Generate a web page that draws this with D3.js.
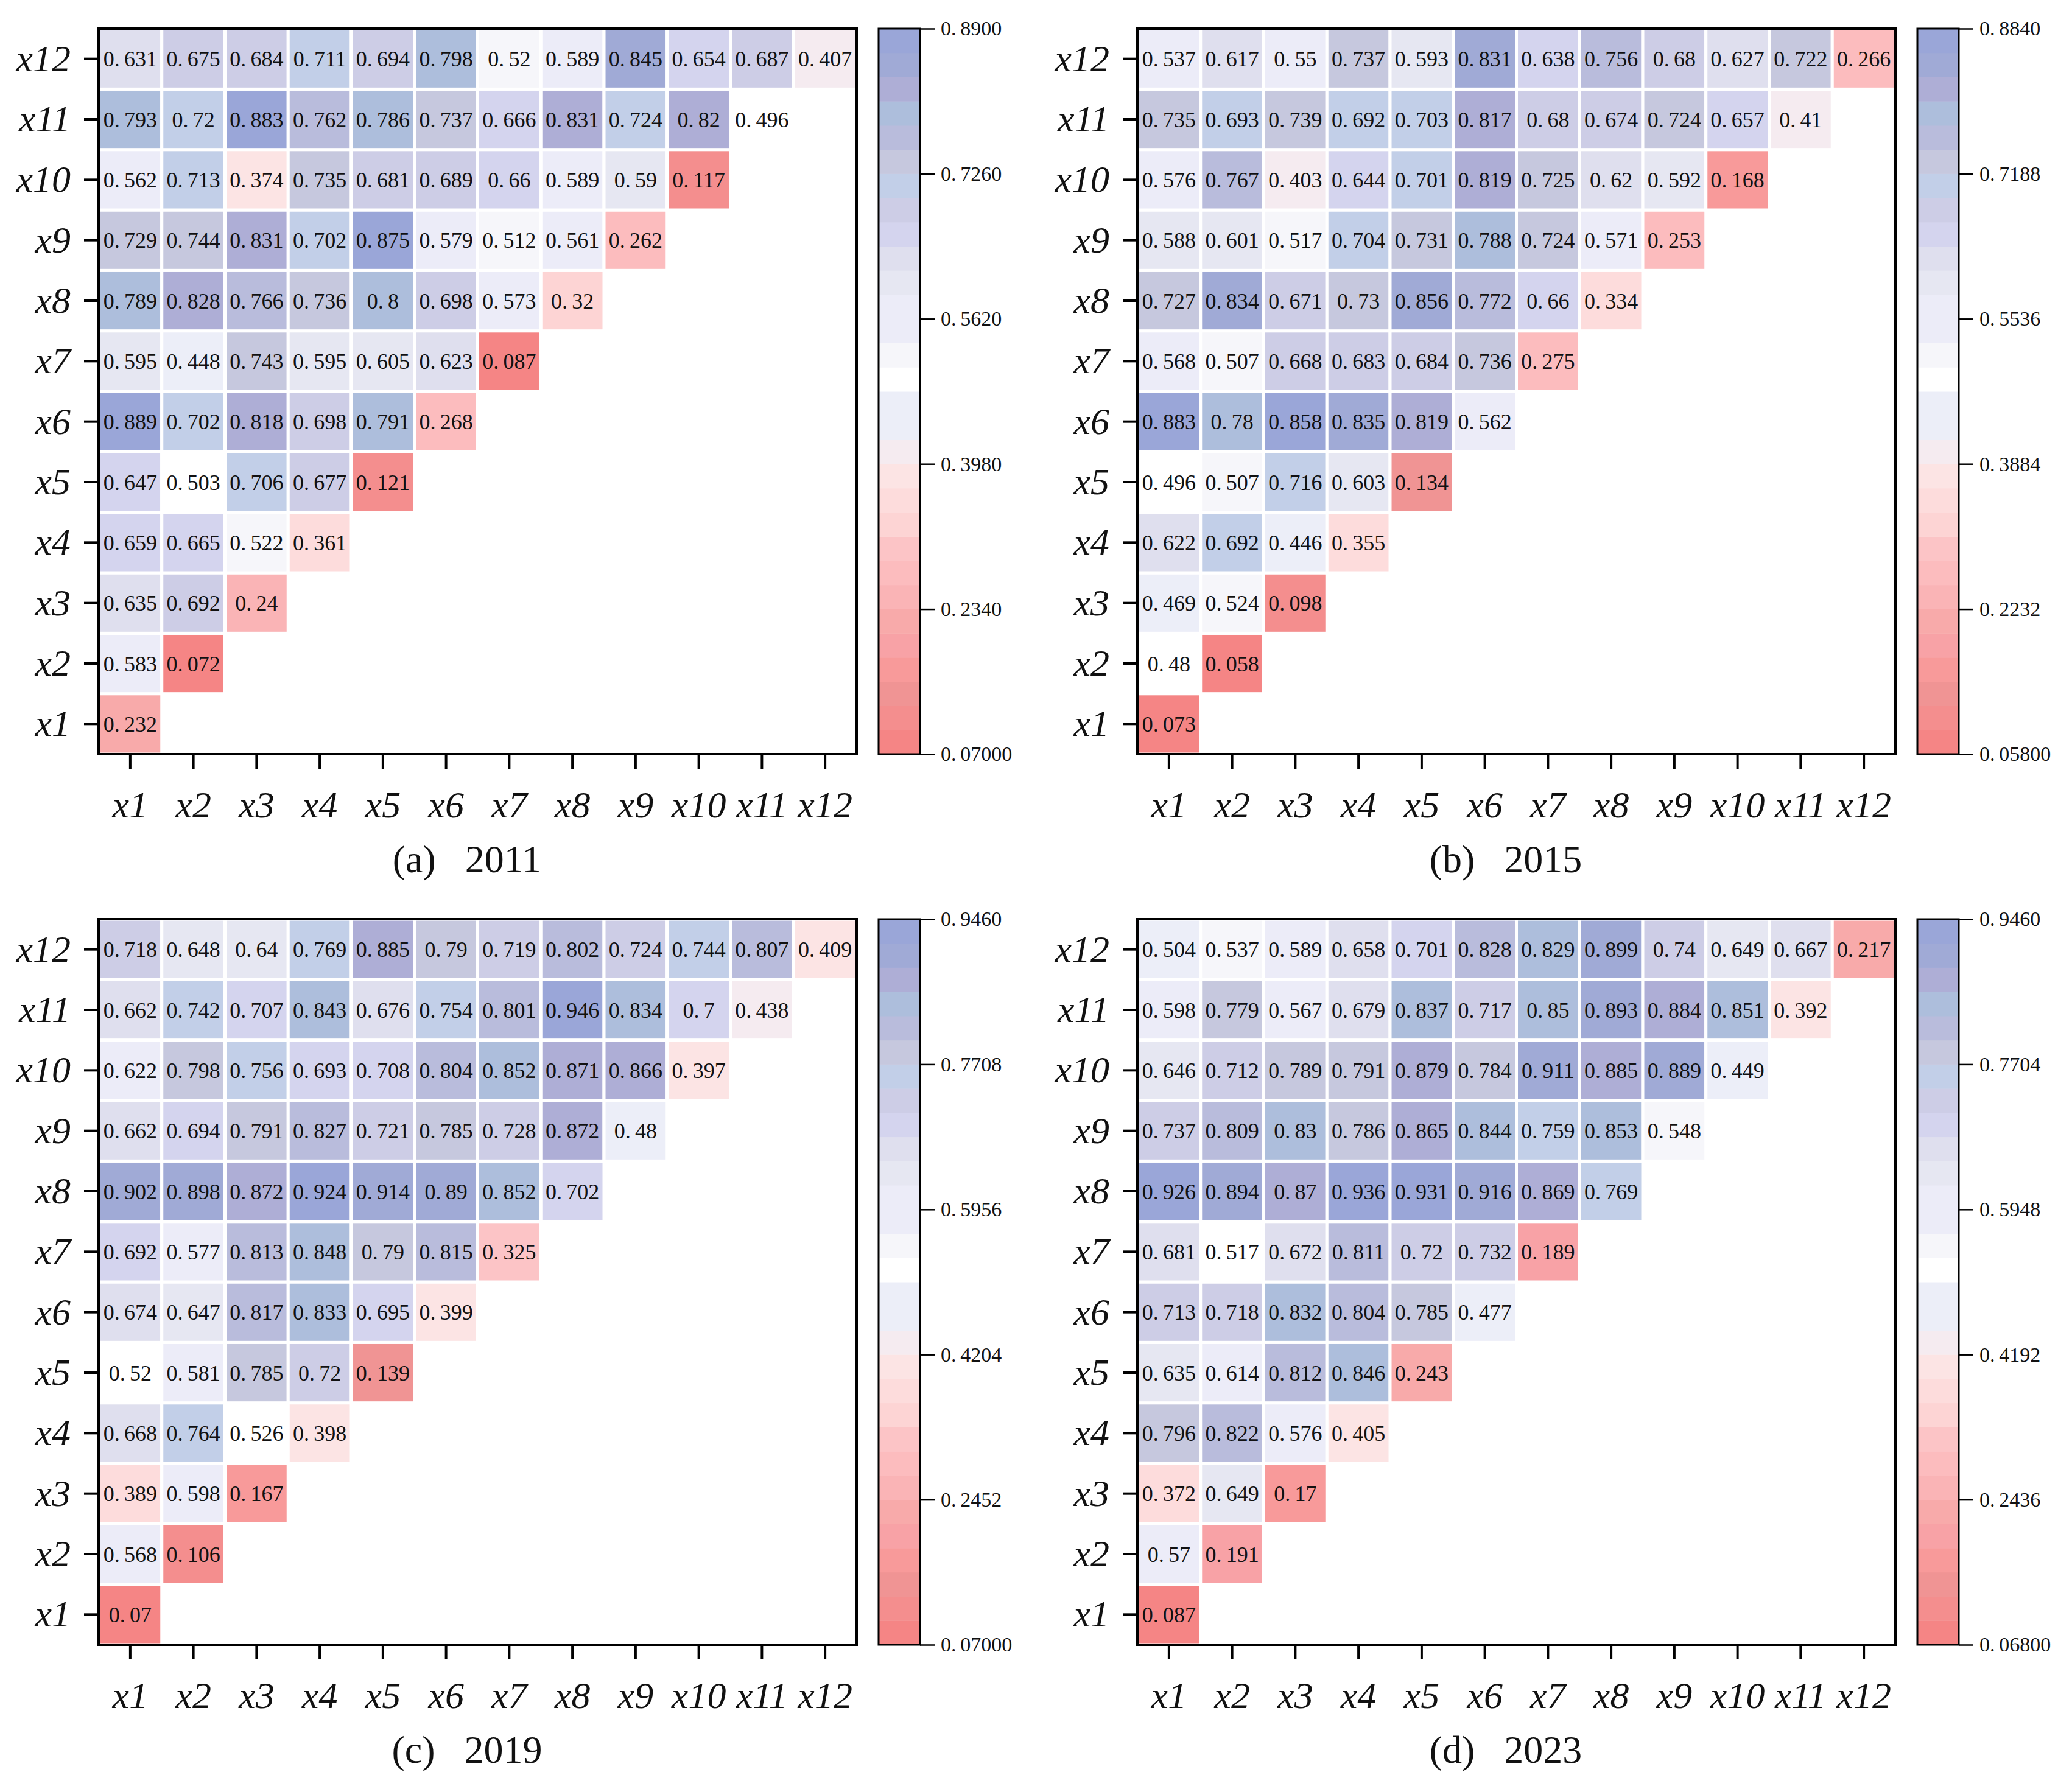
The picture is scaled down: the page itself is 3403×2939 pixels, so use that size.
<!DOCTYPE html>
<html>
<head>
<meta charset="utf-8">
<script src="https://cdn.jsdelivr.net/npm/d3@7"></script>
<style>
  body { margin: 0; background: #fff; }
  svg text { font-family: "Liberation Serif", "Times New Roman", serif; fill: #111; }
</style>
</head>
<body>
<svg id="chart"></svg>
<script>
// variables (rows/columns of each heatmap)
const vars = ['x1','x2','x3','x4','x5','x6','x7','x8','x9','x10','x11','x12'];
const years = ['2011','2015','2019','2023'];
const tags = ['(a)','(b)','(c)','(d)'];

// lower triangle, row x1 first; row xi holds columns x1..xi
const vals2011 = [
  [0.232],
  [0.583,0.072],
  [0.635,0.692,0.24],
  [0.659,0.665,0.522,0.361],
  [0.647,0.503,0.706,0.677,0.121],
  [0.889,0.702,0.818,0.698,0.791,0.268],
  [0.595,0.448,0.743,0.595,0.605,0.623,0.087],
  [0.789,0.828,0.766,0.736,0.8,0.698,0.573,0.32],
  [0.729,0.744,0.831,0.702,0.875,0.579,0.512,0.561,0.262],
  [0.562,0.713,0.374,0.735,0.681,0.689,0.66,0.589,0.59,0.117],
  [0.793,0.72,0.883,0.762,0.786,0.737,0.666,0.831,0.724,0.82,0.496],
  [0.631,0.675,0.684,0.711,0.694,0.798,0.52,0.589,0.845,0.654,0.687,0.407]
];
const vals2015 = [
  [0.073],
  [0.48,0.058],
  [0.469,0.524,0.098],
  [0.622,0.692,0.446,0.355],
  [0.496,0.507,0.716,0.603,0.134],
  [0.883,0.78,0.858,0.835,0.819,0.562],
  [0.568,0.507,0.668,0.683,0.684,0.736,0.275],
  [0.727,0.834,0.671,0.73,0.856,0.772,0.66,0.334],
  [0.588,0.601,0.517,0.704,0.731,0.788,0.724,0.571,0.253],
  [0.576,0.767,0.403,0.644,0.701,0.819,0.725,0.62,0.592,0.168],
  [0.735,0.693,0.739,0.692,0.703,0.817,0.68,0.674,0.724,0.657,0.41],
  [0.537,0.617,0.55,0.737,0.593,0.831,0.638,0.756,0.68,0.627,0.722,0.266]
];
const vals2019 = [
  [0.07],
  [0.568,0.106],
  [0.389,0.598,0.167],
  [0.668,0.764,0.526,0.398],
  [0.52,0.581,0.785,0.72,0.139],
  [0.674,0.647,0.817,0.833,0.695,0.399],
  [0.692,0.577,0.813,0.848,0.79,0.815,0.325],
  [0.902,0.898,0.872,0.924,0.914,0.89,0.852,0.702],
  [0.662,0.694,0.791,0.827,0.721,0.785,0.728,0.872,0.48],
  [0.622,0.798,0.756,0.693,0.708,0.804,0.852,0.871,0.866,0.397],
  [0.662,0.742,0.707,0.843,0.676,0.754,0.801,0.946,0.834,0.7,0.438],
  [0.718,0.648,0.64,0.769,0.885,0.79,0.719,0.802,0.724,0.744,0.807,0.409]
];
const vals2023 = [
  [0.087],
  [0.57,0.191],
  [0.372,0.649,0.17],
  [0.796,0.822,0.576,0.405],
  [0.635,0.614,0.812,0.846,0.243],
  [0.713,0.718,0.832,0.804,0.785,0.477],
  [0.681,0.517,0.672,0.811,0.72,0.732,0.189],
  [0.926,0.894,0.87,0.936,0.931,0.916,0.869,0.769],
  [0.737,0.809,0.83,0.786,0.865,0.844,0.759,0.853,0.548],
  [0.646,0.712,0.789,0.791,0.879,0.784,0.911,0.885,0.889,0.449],
  [0.598,0.779,0.567,0.679,0.837,0.717,0.85,0.893,0.884,0.851,0.392],
  [0.504,0.537,0.589,0.658,0.701,0.828,0.829,0.899,0.74,0.649,0.667,0.217]
];

// colour bar ranges and tick labels (bottom to top)
const ranges = [[0.07,0.89],[0.058,0.884],[0.07,0.946],[0.068,0.946]];
const cbTicks2011 = ['0.07000','0.2340','0.3980','0.5620','0.7260','0.8900'];
const cbTicks2015 = ['0.05800','0.2232','0.3884','0.5536','0.7188','0.8840'];
const cbTicks2019 = ['0.07000','0.2452','0.4204','0.5956','0.7708','0.9460'];
const cbTicks2023 = ['0.06800','0.2436','0.4192','0.5948','0.7704','0.9460'];

// 30-step palette, low -> high
const palette = [
  '#f58585','#f48e8e','#f09494','#f89a9a','#f8a2a6','#f8aaaa','#fab4b6','#fcbcbe',
  '#fcc4c6','#fdd4d4','#fddcdc','#fce4e4','#f5ebf0','#eceef8','#eceef8','#ffffff',
  '#f6f6fa','#ececf8','#ececf8','#e6e7f2','#dfdfee','#d4d4ee','#cdcde6','#c2cfe8',
  '#c6c8de','#b9bcdc','#adbedc','#aeaed6','#a0aad6','#9aa6d8'
];

const allVals = [vals2011, vals2015, vals2019, vals2023];
const allTicks = [cbTicks2011, cbTicks2015, cbTicks2019, cbTicks2023];

const W = 3403, H = 2939;
const svg = d3.select('#chart').attr('width', W).attr('height', H);

// panel geometry (local coordinates)
const hm = {left: 162, right: 1407, top: 47, bottom: 1239};
const cb = {left: 1443, right: 1511};
const offsets = [[0,0],[1706,0],[0,1463],[1706,1463]];

// write "0.631" with the wide dot spacing of the original font
function numText(sel, s) {
  const parts = s.split('.');
  sel.append('tspan').text(parts[0] + (parts.length > 1 ? '.' : ''));
  if (parts.length > 1) sel.append('tspan').attr('dx', '0.2em').text(parts[1]);
}

function drawPanel(k) {
  const rows = allVals[k];
  const [lo, hi] = ranges[k];
  const g = svg.append('g').attr('transform', `translate(${offsets[k][0]},${offsets[k][1]})`);

  const x = d3.scaleBand().domain(vars).range([hm.left, hm.right]);
  const y = d3.scaleBand().domain(vars.slice().reverse()).range([hm.top, hm.bottom]);
  const color = d3.scaleQuantize().domain([lo, hi]).range(palette);

  const cells = [];
  rows.forEach((r, i) => r.forEach((v, j) => cells.push({row: vars[i], col: vars[j], v})));

  g.selectAll('rect.cell').data(cells).join('rect')
    .attr('class', 'cell')
    .attr('x', d => x(d.col))
    .attr('y', d => y(d.row))
    .attr('width', x.bandwidth())
    .attr('height', y.bandwidth())
    .attr('fill', d => color(d.v))
    .attr('stroke', '#fff')
    .attr('stroke-width', 5);

  g.selectAll('text.val').data(cells).join('text')
    .attr('class', 'val')
    .attr('x', d => x(d.col) + x.bandwidth() / 2)
    .attr('y', d => y(d.row) + y.bandwidth() / 2)
    .attr('dy', '0.35em')
    .attr('text-anchor', 'middle')
    .style('font-size', '36px')
    .each(function(d) { numText(d3.select(this), String(d.v)); });

  // frame
  g.append('rect')
    .attr('x', hm.left).attr('y', hm.top)
    .attr('width', hm.right - hm.left).attr('height', hm.bottom - hm.top)
    .attr('fill', 'none').attr('stroke', '#000').attr('stroke-width', 4);

  // axes
  const yAxisG = g.append('g')
    .attr('transform', `translate(${hm.left - 2},0)`)
    .call(d3.axisLeft(y).tickSize(22).tickPadding(22));
  const xAxisG = g.append('g')
    .attr('transform', `translate(0,${hm.bottom + 2})`)
    .call(d3.axisBottom(x).tickSize(22).tickPadding(36));
  [yAxisG, xAxisG].forEach(a => {
    a.select('.domain').remove();
    a.selectAll('.tick line').attr('stroke', '#000').attr('stroke-width', 4);
    a.selectAll('.tick text')
      .style('font-size', '62px').style('font-style', 'italic').attr('fill', '#111');
  });

  // colour bar
  const cy = d3.scaleLinear().domain([lo, hi]).range([hm.bottom, hm.top]);
  const step = (hi - lo) / palette.length;
  g.selectAll('rect.cb').data(palette).join('rect')
    .attr('class', 'cb')
    .attr('x', cb.left)
    .attr('y', (c, i) => cy(lo + (i + 1) * step))
    .attr('width', cb.right - cb.left)
    .attr('height', (c, i) => cy(lo + i * step) - cy(lo + (i + 1) * step) + 0.5)
    .attr('fill', c => c);
  g.append('rect')
    .attr('x', cb.left).attr('y', hm.top)
    .attr('width', cb.right - cb.left).attr('height', hm.bottom - hm.top)
    .attr('fill', 'none').attr('stroke', '#000').attr('stroke-width', 3);

  const labels = allTicks[k];
  const tickVals = labels.map(Number);
  const cbAxisG = g.append('g')
    .attr('transform', `translate(${cb.right},0)`)
    .call(d3.axisRight(cy).tickValues(tickVals).tickSize(24).tickPadding(10)
      .tickFormat((d, i) => labels[i]));
  cbAxisG.select('.domain').remove();
  cbAxisG.selectAll('.tick line').attr('stroke', '#000').attr('stroke-width', 2.5);
  cbAxisG.selectAll('.tick text')
    .style('font-size', '34px').attr('fill', '#111')
    .each(function() {
      const t = d3.select(this);
      const s = t.text();
      t.text(null);
      numText(t, s);
    });

  // caption
  const cap = g.append('text')
    .attr('x', 767).attr('y', 1433)
    .attr('text-anchor', 'middle')
    .style('font-size', '64px');
  cap.append('tspan').text(tags[k] + ' ');
  cap.append('tspan').attr('dx', 32).text(years[k]);
}

years.forEach((yr, k) => drawPanel(k));
</script>
</body>
</html>
